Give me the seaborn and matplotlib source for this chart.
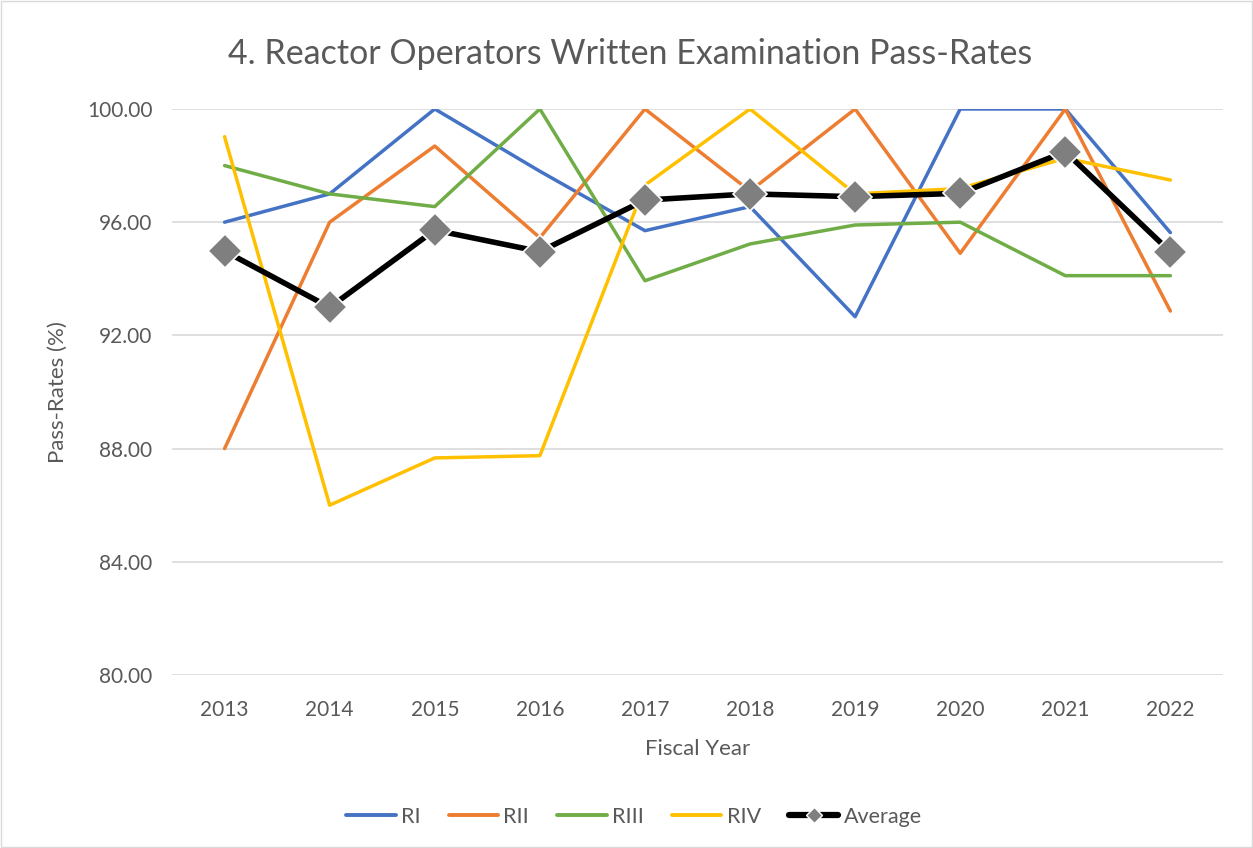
import pandas as pd
import matplotlib.pyplot as plt
import seaborn as sns

years = [2013, 2014, 2015, 2016, 2017, 2018, 2019, 2020, 2021, 2022]
ri = [96.0, 97.0, 100.0, 97.8, 95.7, 96.55, 92.66, 100.0, 100.0, 95.63]
rii = [88.0, 96.0, 98.69, 95.45, 100.0, 97.1, 100.0, 94.9, 100.0, 92.86]
riii = [98.0, 97.0, 96.55, 100.0, 93.93, 95.23, 95.9, 96.0, 94.11, 94.11]
riv = [99.02, 86.0, 87.67, 87.75, 97.31, 100.0, 97.0, 97.19, 98.26, 97.49]
average = [94.98, 92.99, 95.72, 94.96, 96.78, 97.0, 96.9, 97.02, 98.49, 94.95]

regions = ['RI', 'RII', 'RIII', 'RIV']
colors = ['#4472C4', '#ED7D31', '#70AD47', '#FFC000']

df = pd.DataFrame({
    'Year': years * 4,
    'Rate': ri + rii + riii + riv,
    'Region': [r for r in regions for _ in years],
})

sns.set_style('white')
plt.rcParams['font.family'] = ['Lato', 'DejaVu Sans']
grey = '#595959'

fig = plt.figure(figsize=(12.53, 8.48), dpi=100)
ax = fig.add_axes([0.1373, 0.204, 0.8387, 0.6675])

sns.lineplot(data=df, x='Year', y='Rate', hue='Region', palette=colors,
             linewidth=2.5, ax=ax, legend=False, zorder=3)
sns.lineplot(x=years, y=average, color='black', linewidth=4.0, marker='D',
             markersize=17, markerfacecolor='#7F7F7F', markeredgecolor='white',
             markeredgewidth=1.2, ax=ax, zorder=4)

ax.set_xlim(2012.5, 2022.5)
ax.set_ylim(80, 100)
ax.set_yticks([80, 84, 88, 92, 96, 100])
ax.set_yticklabels([f'{v:.2f}' for v in [80, 84, 88, 92, 96, 100]])
ax.set_xticks(years)
ax.grid(axis='y', color='#d9d9d9', linewidth=1.2)
ax.set_axisbelow(True)
for s in ax.spines.values():
    s.set_visible(False)
ax.tick_params(axis='x', colors=grey, labelsize=15, length=0, pad=18)
ax.tick_params(axis='y', colors=grey, labelsize=15, length=0, pad=14)

ax.set_xlabel('Fiscal Year', color=grey, fontsize=16, labelpad=14)
ax.set_ylabel('Pass-Rates (%)', color=grey, fontsize=16, labelpad=14)
fig.suptitle('4. Reactor Operators Written Examination Pass-Rates',
             color=grey, fontsize=24.5, y=0.955, x=0.503)

handles = [plt.Line2D([], [], color=c, linewidth=2.8) for c in colors]
handles.append(plt.Line2D([], [], color='black', linewidth=4.5, marker='D',
                          markersize=8, markerfacecolor='#7F7F7F',
                          markeredgecolor='white'))
fig.legend(handles, regions + ['Average'], loc='center', ncol=5,
           bbox_to_anchor=(0.506, 0.037), frameon=False, fontsize=15.5,
           labelcolor=grey, handlelength=2.3, columnspacing=1.3,
           handletextpad=0.25)

fig.patches.append(plt.Rectangle((0.001, 0.001), 0.998, 0.998,
                                 transform=fig.transFigure, fill=False,
                                 edgecolor='#d9d9d9', linewidth=1))

fig.savefig('out.png', dpi=100)
